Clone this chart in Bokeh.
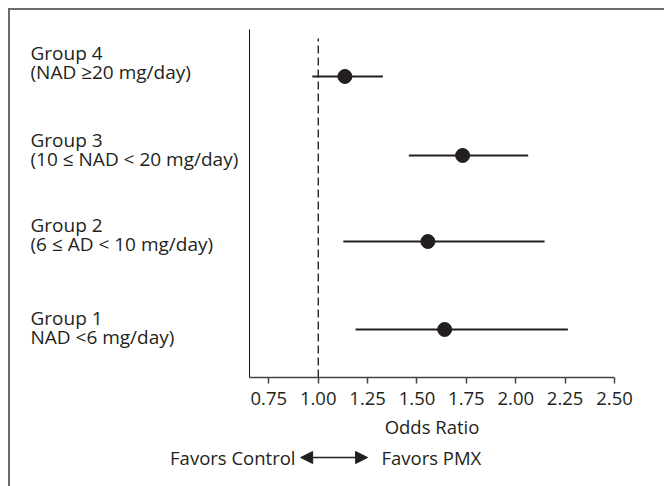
from bokeh.plotting import figure
from bokeh.layouts import column, row
from bokeh.models import Arrow, NormalHead, Range1d, FixedTicker, NumeralTickFormatter, ColumnDataSource
from bokeh.core.properties import value
from bokeh.embed import file_html
from bokeh.resources import INLINE

# ---- data ----
group_names = ["Group 1", "Group 2", "Group 3", "Group 4"]
group_desc = ["NAD <6 mg/day)", "(6 \u2264 AD < 10 mg/day)",
              "(10 \u2264 NAD < 20 mg/day)", "(NAD \u226520 mg/day)"]
odds_ratio = [1.640, 1.555, 1.731, 1.135]
ci_low = [1.189, 1.127, 1.459, 0.970]
ci_high = [2.264, 2.146, 2.063, 1.327]
row_y = [0.552, 1.563, 2.552, 3.46]
x_ticks = [0.75, 1.00, 1.25, 1.50, 1.75, 2.00, 2.25, 2.50]
null_value = 1.0
favors_left = "Favors Control"
favors_right = "Favors PMX"

# ---- layout constants (pixels) ----
FONT = "Open Sans"
TXT = "#231f20"
FS = "18.5px"
LAB_FS = "19px"
LEFT_W = 239          # width of label column (frame starts after it)
MAIN_W = 415
TOP_H = 436
BOT_H = 40
FRAME_TOP = 19
FRAME_H = 348
X0, X1 = 0.652, 2.50
PX_PER_UNIT = 365.0 / (X1 - X0)
Y0, Y1 = 0.0, 4.0

# label positions (pixels from the frame bottom for first-line baselines)
label_base_px = [60, 153, 238, 325]
line_gap_px = 19.5

src = ColumnDataSource(dict(y=row_y, o=odds_ratio, lo=ci_low, hi=ci_high))
y_range = Range1d(Y0, Y1)

# ---- main forest plot ----
p = figure(width=MAIN_W, height=TOP_H, output_backend="svg", toolbar_location=None,
           x_range=Range1d(X0, X1), y_range=y_range,
           min_border_left=0, min_border_right=MAIN_W - 365, min_border_top=FRAME_TOP,
           min_border_bottom=TOP_H - FRAME_TOP - FRAME_H)
p.outline_line_color = None
p.xgrid.visible = False
p.ygrid.visible = False

xa = p.xaxis[0]
xa.ticker = FixedTicker(ticks=x_ticks)
xa.formatter = NumeralTickFormatter(format="0.00")
xa.minor_tick_line_color = None
xa.major_tick_in = 0
xa.major_tick_out = 6
xa.axis_line_color = "#444444"
xa.axis_line_width = 1.5
xa.major_tick_line_color = "#444444"
xa.major_tick_line_width = 1.5
xa.major_label_text_font = FONT
xa.major_label_text_font_size = FS
xa.major_label_text_color = TXT
xa.major_label_standoff = 8
xa.axis_label = "Odds Ratio"
xa.axis_label_text_font = FONT
xa.axis_label_text_font_size = FS
xa.axis_label_text_font_style = "normal"
xa.axis_label_text_color = TXT
xa.axis_label_standoff = 6

ya = p.yaxis[0]
ya.ticker = FixedTicker(ticks=[])
ya.major_tick_line_color = None
ya.minor_tick_line_color = None
ya.major_tick_out = 0
ya.major_label_standoff = 0
ya.major_label_text_font_size = "0px"
ya.axis_line_color = "#111111"
ya.axis_line_width = 1

p.segment(x0=null_value, x1=null_value, y0=Y0, y1=Y1 - 9 / (FRAME_H / (Y1 - Y0)),
          line_color="#000000", line_width=1.2, line_dash="8 4")
p.segment(x0="lo", x1="hi", y0="y", y1="y", source=src, line_color=TXT, line_width=2.2)
p.scatter(x="o", y="y", source=src, size=14, fill_color=TXT, line_color=TXT)

# ---- label column ----
upy = (Y1 - Y0) / FRAME_H
lab = figure(width=LEFT_W, height=TOP_H, output_backend="svg", toolbar_location=None,
             x_range=Range1d(0, LEFT_W), y_range=y_range,
             min_border_left=0, min_border_right=0, min_border_top=FRAME_TOP,
             min_border_bottom=TOP_H - FRAME_TOP - FRAME_H,
             x_axis_location=None, y_axis_location=None)
lab.outline_line_color = None
lab.xgrid.visible = False
lab.ygrid.visible = False
lab_src = ColumnDataSource(dict(
    x=[20] * 8,
    y=[Y0 + b * upy for b in label_base_px] + [Y0 + (b - line_gap_px) * upy for b in label_base_px],
    t=group_names + group_desc))
lab.text(x="x", y="y", text="t", source=lab_src, text_font=value(FONT),
         text_font_size=value(LAB_FS), text_color=TXT, text_align="left",
         text_baseline="alphabetic")

# ---- favors row ----
bx0 = X0 - LEFT_W / PX_PER_UNIT
bx1 = X0 + MAIN_W / PX_PER_UNIT
bot = figure(width=LEFT_W + MAIN_W, height=BOT_H, output_backend="svg", toolbar_location=None,
             x_range=Range1d(bx0, bx1), y_range=Range1d(0, BOT_H),
             min_border=0, x_axis_location=None, y_axis_location=None)
bot.outline_line_color = None
bot.xgrid.visible = False
bot.ygrid.visible = False
fy = BOT_H - 11
arrow_from, arrow_to = 0.911, 1.250
bot.text(x=[arrow_from - 0.026, arrow_to + 0.070], y=[fy, fy],
         text=[favors_left, favors_right], text_font=value(FONT), text_font_size=value(FS),
         text_color=TXT, text_align=["right", "left"], text_baseline="middle")
bot.add_layout(Arrow(x_start=arrow_from, x_end=arrow_to, y_start=fy, y_end=fy,
                     line_color=TXT, line_width=1.5,
                     start=NormalHead(size=12, fill_color=TXT, line_color=TXT),
                     end=NormalHead(size=12, fill_color=TXT, line_color=TXT)))

layout = column(row(lab, p), bot)
layout.styles = {"border-left": "2px solid #6b6b6b", "border-top": "2px solid #6b6b6b",
                 "margin-left": "8px", "margin-top": "8px"}

open("out.html", "w").write(file_html(layout, INLINE))
